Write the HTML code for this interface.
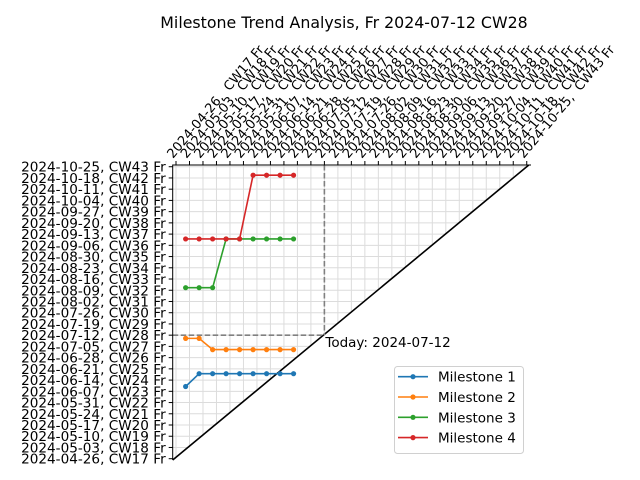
<!DOCTYPE html>
<html><head><meta charset="utf-8">
<style>
html,body{margin:0;padding:0;background:#fff;}
svg{display:block;font-family:"DejaVu Sans","Liberation Sans",sans-serif;}
</style></head>
<body>
<svg id="chart" width="640" height="480" viewBox="0 0 640 480">
<text x="344" y="28" font-size="15.8" text-anchor="middle">Milestone Trend Analysis, Fr 2024-07-12 CW28</text>
<g id="grid"></g>
<g id="marks"></g>
<g id="axes"></g>
</svg>
<script>
// Week tick labels (CW17..CW43, Fridays)
const weekDates = ["2024-04-26","2024-05-03","2024-05-10","2024-05-17","2024-05-24","2024-05-31","2024-06-07","2024-06-14","2024-06-21","2024-06-28","2024-07-05","2024-07-12","2024-07-19","2024-07-26","2024-08-02","2024-08-09","2024-08-16","2024-08-23","2024-08-30","2024-09-06","2024-09-13","2024-09-20","2024-09-27","2024-10-04","2024-10-11","2024-10-18","2024-10-25"];
const weekNums = [17,18,19,20,21,22,23,24,25,26,27,28,29,30,31,32,33,34,35,36,37,38,39,40,41,42,43];
// report dates (days after 2024-04-26)
const reportDays = [5,12,19,26,33,40,47,54,61];
// milestone forecast dates (days after 2024-04-26)
const milestone1 = [45,53,53,53,53,53,53,53,53];
const milestone2 = [75,75,68,68,68,68,68,68,68];
const milestone3 = [106.6,106.6,106.6,137,137,137,137,137,137];
const milestone4 = [137,137,137,137,137,176.7,176.7,176.7,176.7];
const seriesNames = ["Milestone 1","Milestone 2","Milestone 3","Milestone 4"];
const todayDay = 77;
const todayLabel = "Today: 2024-07-12";

const colors = ["#1f77b4","#ff7f0e","#2ca02c","#d62728"];
const series = [milestone1,milestone2,milestone3,milestone4];
const L=172.7,R=531,T=165,B=460;
const X = d => 176 + d*(13.49/7);
const Y = d => 458.7 - d*(11.23/7);
const NS="http://www.w3.org/2000/svg";
function mk(tag,attrs,parent){const e=document.createElementNS(NS,tag);for(const k in attrs)e.setAttribute(k,attrs[k]);parent.appendChild(e);return e;}
const svg=document.getElementById('chart');
const grid=document.getElementById('grid'), marks=document.getElementById('marks'), axes=document.getElementById('axes');

weekNums.forEach((w,i)=>{
  const gx=mk('line',{x1:X(i*7),x2:X(i*7),y1:T,y2:B,stroke:'#dcdcdc','stroke-width':1},grid);
  
  
  const gy=mk('line',{x1:L,x2:R,y1:Y(i*7),y2:Y(i*7),stroke:'#dcdcdc','stroke-width':1},grid);
  
  
});
const slope=(Y(182)-Y(0))/(X(182)-X(0));
const yAt=x=>Y(0)+(x-X(0))*slope;
const xAtTop=X(0)+(T-Y(0))/slope;
const wf=mk('polygon',{points:`${L},${yAt(L)} ${xAtTop},${T} ${R},${T} ${R},${B} ${L},${B}`,fill:'#fff'},marks);


const diag=mk('line',{x1:L,y1:Math.min(B,yAt(L)),x2:Math.min(R,xAtTop),y2:T,stroke:'#000','stroke-width':1.6},marks);


const tv=mk('line',{x1:X(todayDay),x2:X(todayDay),y1:T,y2:Y(todayDay),stroke:'#808080','stroke-width':1.6,'stroke-dasharray':'5.5,2.5'},marks);


const th=mk('line',{x1:L,x2:X(todayDay),y1:Y(todayDay),y2:Y(todayDay),stroke:'#808080','stroke-width':1.6,'stroke-dasharray':'5.5,2.5'},marks);


const tt=mk('text',{x:X(todayDay)+1,y:Y(todayDay)+12,'font-size':13.5},marks);
tt.textContent=todayLabel;



series.forEach((vals,s)=>{
  const g=mk('g',{},marks);
  
  
  const pts=vals.map((v,i)=>X(reportDays[i])+','+Y(v)).join(' ');
  const pl=mk('polyline',{points:pts,fill:'none',stroke:colors[s],'stroke-width':1.6},g);
  
  
  vals.forEach((v,i)=>{
    const c=mk('circle',{cx:X(reportDays[i]),cy:Y(v),r:2.6,fill:colors[s]},g);
    
    
  });
});

const fr=mk('polyline',{points:`${R},${T} ${L},${T} ${L},${B}`,fill:'none',stroke:'#000','stroke-width':1},axes);


weekNums.forEach((w,i)=>{
  const x=X(i*7), y=Y(i*7);
  const tk=mk('line',{x1:x,x2:x,y1:T,y2:T-4,stroke:'#000','stroke-width':1},axes);
  
  
  const ax=x-3, ay=T-6;
  const tx=mk('text',{x:ax,y:ay,'font-size':13,transform:`rotate(-50 ${ax} ${ay})`},axes);
  tx.setAttribute('xml:space','preserve');
  tx.style.whiteSpace='pre';
  tx.textContent=weekDates[i]+',  CW'+w+' Fr';
  
  
  const ty=mk('line',{x1:L,x2:L-4,y1:y,y2:y,stroke:'#000','stroke-width':1},axes);
  
  
  const yl=mk('text',{x:L-7,y:y+5,'font-size':13.6,'text-anchor':'end'},axes);
  yl.textContent=weekDates[i]+', CW'+w+' Fr';
  
  
});

const lg=mk('g',{},svg);


mk('rect',{x:394.5,y:366.5,width:129,height:87,rx:3,fill:'#fff','fill-opacity':0.8,stroke:'#d0d0d0'},lg);
seriesNames.forEach((n,s)=>{
  const ly=376.7+s*20.3;
  const e=mk('g',{},lg);
  
  
  mk('line',{x1:398,x2:428,y1:ly,y2:ly,stroke:colors[s],'stroke-width':1.6},e);
  mk('circle',{cx:413,cy:ly,r:2.6,fill:colors[s]},e);
  const t=mk('text',{x:438,y:ly+5,'font-size':13.5},e);
  t.textContent=n;
});
</script>
</body></html>
